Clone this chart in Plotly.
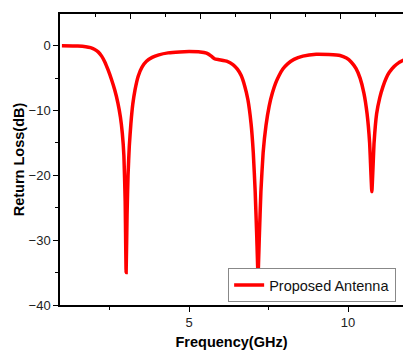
import plotly.graph_objects as go

freq = [1.0, 1.5, 1.75, 1.9, 2.02, 2.14, 2.25, 2.35, 2.45, 2.56, 2.66, 2.76, 2.84, 2.9, 2.95, 2.99, 3.02,
        3.05, 3.08, 3.12, 3.17, 3.23, 3.3, 3.4, 3.52, 3.66, 3.84, 4.05, 4.34, 4.7, 5.0, 5.35, 5.55, 5.7, 5.8, 5.95,
        6.2, 6.38, 6.52, 6.64, 6.75, 6.85, 6.95, 7.02, 7.08, 7.13, 7.17, 7.21, 7.26, 7.33,
        7.42, 7.52, 7.62, 7.72, 7.82, 7.95, 8.1, 8.3, 8.58, 9.0, 9.4, 9.75, 9.95, 10.1, 10.25, 10.38,
        10.5, 10.6, 10.68, 10.75, 10.82, 10.9, 11.0, 11.1, 11.2, 11.3, 11.45, 11.6, 11.75]
s11 = [0.0, -0.05, -0.15, -0.3, -0.55, -0.95, -1.6, -2.5, -3.7, -5.2, -6.8, -8.8, -11.0, -13.5, -17.0, -24.0, -35.0,
       -26.0, -20.0, -15.5, -12.0, -9.0, -6.8, -4.7, -3.3, -2.4, -1.8, -1.4, -1.1, -0.95, -0.9, -0.95, -1.15, -1.6, -2.0, -2.15,
       -2.4, -2.9, -3.6, -4.6, -6.2, -8.3, -12.0, -16.5, -22.5, -29.5, -35.5, -29.5, -22.5, -16.5,
       -12.3, -9.3, -7.3, -5.8, -4.7, -3.6, -2.8, -2.1, -1.6, -1.3, -1.35, -1.5, -1.9, -2.5, -3.5, -5.0,
       -7.3, -10.5, -15.0, -22.5, -15.0, -10.5, -8.0, -6.3, -5.0, -4.1, -3.2, -2.6, -2.2]

fig = go.Figure()
fig.add_trace(go.Scatter(x=freq, y=s11, mode="lines", name="Proposed Antenna",
                         line=dict(color="#ff0000", width=3.5, shape="spline", smoothing=0.4)))
fig.add_trace(go.Scatter(x=[0, 9.8], y=[None, None], xaxis="x2", showlegend=False,
                         hoverinfo="skip"))

axis_font = dict(family="Liberation Sans, Arial", size=13, color="#222222")
title_font = dict(family="Liberation Sans, Arial", size=14.5, color="black")
fig.update_layout(
    width=403, height=352,
    margin=dict(l=60, r=0, t=14, b=47),
    plot_bgcolor="white", paper_bgcolor="white",
    showlegend=True,
    legend=dict(x=0.98, y=0.01, xanchor="right", yanchor="bottom",
                bgcolor="white", bordercolor="#888888", borderwidth=1,
                font=dict(family="Liberation Sans, Arial", size=14.5, color="#111111"),
                itemwidth=30, tracegroupgap=0),
    xaxis=dict(range=[0.94, 11.73], tickvals=[5, 10], ticks="outside", ticklen=5,
               tickwidth=1.2, tickcolor="black", showline=True, linecolor="black",
               linewidth=1.5, showgrid=False, zeroline=False, tickfont=axis_font,
               minor=dict(tickvals=[2.5, 7.5], ticks="outside", ticklen=3, tickcolor="black"),
               title=dict(text="<b>Frequency(GHz)</b>", standoff=8, font=title_font)),
    xaxis2=dict(overlaying="x", side="top", range=[0, 9.8], tickvals=[2, 4, 6, 8],
                ticks="inside", ticklen=5, tickcolor="black", showticklabels=False,
                showline=True, linecolor="black", linewidth=1.5, showgrid=False,
                zeroline=False,
                minor=dict(tickvals=[1, 3, 5, 7, 9], ticks="inside", ticklen=3, tickcolor="black")),
    yaxis=dict(range=[-40, 4.9], tickvals=[0, -10, -20, -30, -40], ticks="outside", ticklen=5,
               tickwidth=1.2, tickcolor="black", showline=True, linecolor="black",
               linewidth=1.5, showgrid=False, zeroline=False, tickfont=axis_font,
               minor=dict(tickvals=[-5, -15, -25, -35], ticks="outside", ticklen=3, tickcolor="black"),
               title=dict(text="<b>Return Loss(dB)</b>", standoff=1, font=title_font)),
)
fig.write_html("out.html")
